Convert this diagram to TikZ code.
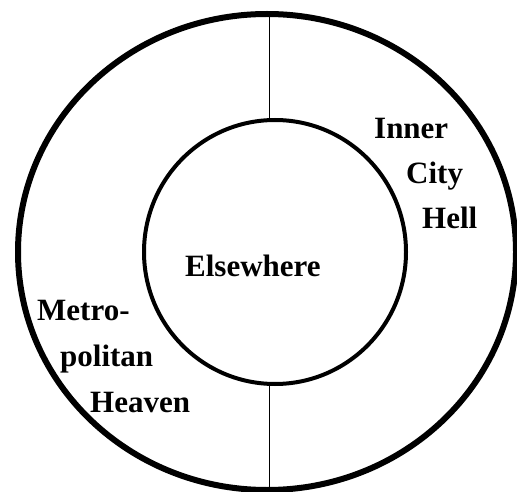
\documentclass[tikz,border=0pt]{standalone}
\usepackage{fontspec}
\setmainfont{Liberation Serif}
\begin{document}
\begin{tikzpicture}[x=1pt,y=-1pt,
  lbl/.style={anchor=base west,inner sep=0pt,font=\fontsize{31}{37}\selectfont\bfseries}]
\useasboundingbox (0,0) rectangle (517,492);
\draw[line width=6pt] (267,252) ellipse [x radius=249, y radius=238];
\draw[line width=4pt] (275,252) ellipse [x radius=131, y radius=132];
\coordinate (ot) at (269.5,15);
\coordinate (it) at (269.5,120);
\coordinate (ib) at (269.5,384);
\coordinate (ob) at (269.5,490);
\draw[line width=1.5pt] (ot) -- (it);
\draw[line width=1.5pt] (ib) -- (ob);
\node[lbl] (els) at (185,276) {Elsewhere};
\node[lbl] (in1) at (374,139) {Inner};
\node[lbl] (in2) at (406,184) {City};
\node[lbl] (in3) at (422,229) {Hell};
\node[lbl] (me1) at (37,320) {Metro-};
\node[lbl] (me2) at (60,366) {politan};
\node[lbl] (me3) at (90,412) {Heaven};
\end{tikzpicture}
\end{document}
